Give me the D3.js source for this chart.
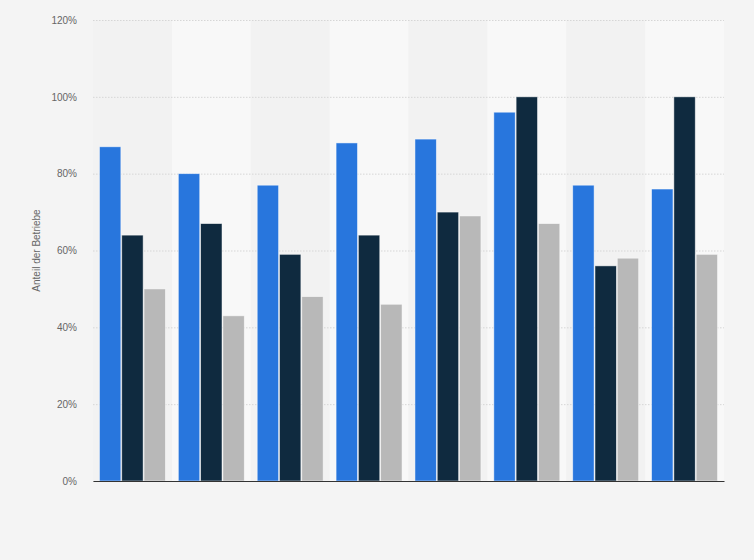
<!DOCTYPE html>
<html lang="de">
<head>
    <meta charset="UTF-8">
    <title>Anteil der Betriebe</title>
    <script src="https://d3js.org/d3.v7.min.js"></script>
    <style>
        body {
            margin: 0;
            background: #f4f4f4;
            font-family: Arial, "Liberation Sans", sans-serif;
        }
        .grid line {
            stroke: #d6d6d6;
            stroke-dasharray: 1.5 1.5;
        }
        .tick text {
            fill: #666;
            font-size: 10px;
        }
    </style>
</head>
<body>

<svg id="chart" width="754" height="560"></svg>

<script>
    // groups carry no visible label in the picture
    const categories = ["1", "2", "3", "4", "5", "6", "7", "8"];
    const seriesNames = ["Reihe 1", "Reihe 2", "Reihe 3"];
    const series1 = [87, 80, 77, 88, 89, 96, 77, 76];
    const series2 = [64, 67, 59, 64, 70, 100, 56, 100];
    const series3 = [50, 43, 48, 46, 69, 67, 58, 59];
    const yTicks = [0, 20, 40, 60, 80, 100, 120];

    const colors = ["#2876dd", "#0f2a3f", "#b8b8b8"];
    const allSeries = [series1, series2, series3];

    const margin = { top: 20, right: 30, bottom: 79, left: 93 };
    const width = 754 - margin.left - margin.right;
    const height = 560 - margin.top - margin.bottom;

    const svg = d3.select("#chart")
        .append("g")
        .attr("transform", `translate(${margin.left},${margin.top})`);

    const x = d3.scaleBand()
        .domain(categories)
        .range([0, width])
        .padding(0);

    const xInner = d3.scaleBand()
        .domain(seriesNames)
        .range([0, x.bandwidth()])
        .paddingOuter(0.29)
        .paddingInner(0.04);

    const y = d3.scaleLinear()
        .domain([0, 120])
        .range([height, 0]);

    // alternating column bands
    svg.selectAll(".band")
        .data(categories)
        .enter()
        .append("rect")
        .attr("x", d => x(d))
        .attr("y", 0)
        .attr("width", x.bandwidth())
        .attr("height", height)
        .attr("fill", (d, i) => i % 2 === 1 ? "#f8f8f8" : "#f2f2f2");

    // grid lines
    svg.append("g")
        .attr("class", "grid")
        .call(d3.axisLeft(y).tickValues(yTicks).tickSize(-width).tickFormat(""))
        .call(g => g.select(".domain").remove());

    // y axis labels
    svg.append("g")
        .call(d3.axisLeft(y).tickValues(yTicks).tickSize(0).tickPadding(16).tickFormat(d => d + "%"))
        .call(g => g.select(".domain").remove());

    // bars
    const groups = svg.selectAll(".group")
        .data(categories)
        .enter()
        .append("g")
        .attr("transform", d => `translate(${x(d)},0)`);

    groups.selectAll("rect")
        .data((d, i) => allSeries.map((s, j) => ({ key: seriesNames[j], value: s[i], color: colors[j] })))
        .enter()
        .append("rect")
        .attr("x", d => xInner(d.key))
        .attr("y", d => y(d.value))
        .attr("width", xInner.bandwidth())
        .attr("height", d => height - y(d.value))
        .attr("fill", d => d.color)
        .attr("stroke", "rgba(255,255,255,0.6)")
        .attr("stroke-width", 0.8);

    // x axis line
    svg.append("g")
        .attr("transform", `translate(0,${height})`)
        .call(d3.axisBottom(x).tickSize(0).tickFormat(""))
        .call(g => g.select(".domain").attr("stroke", "#333").attr("stroke-width", 1.2));

    // y axis title
    svg.append("text")
        .attr("transform", "rotate(-90)")
        .attr("x", -(y(60)))
        .attr("y", -53)
        .attr("text-anchor", "middle")
        .attr("font-size", "10px")
        .attr("fill", "#666")
        .text("Anteil der Betriebe");
</script>

</body>
</html>
